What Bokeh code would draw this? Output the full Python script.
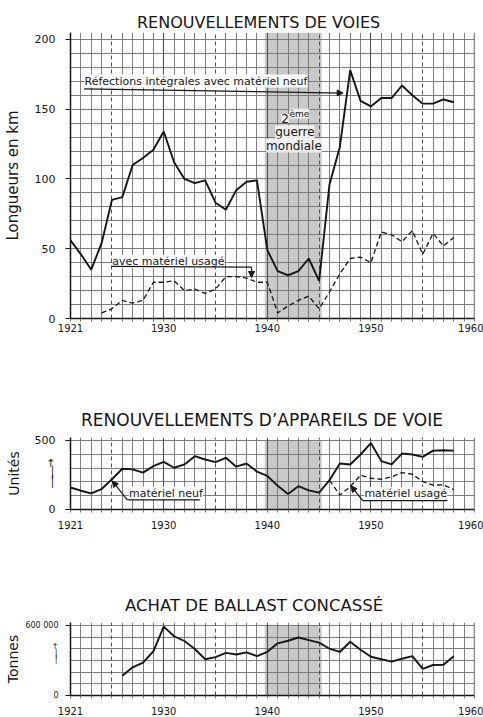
from bokeh.plotting import figure
from bokeh.models import Range1d, FixedTicker, Grid, BoxAnnotation, Span, Label, Arrow, NormalHead
from bokeh.layouts import column
from bokeh.embed import file_html
from bokeh.resources import INLINE

# ---------------- data ----------------
years_voies_neuf = list(range(1921, 1959))
voies_neuf = [56, 46, 35, 54, 85, 87, 110, 115, 121, 134, 112, 100, 97, 99, 83, 78, 92, 98, 99,
              49, 34, 31, 34, 43, 27, 96, 123, 178, 156, 152, 158, 158, 167, 160, 154, 154, 157, 155]
years_voies_usage = list(range(1924, 1959))
voies_usage = [4, 7, 13, 11, 13, 26, 26, 27, 20, 21, 18, 21, 30, 30, 29, 26, 26, 4, 9, 13, 16, 7,
               19, 32, 43, 44, 40, 62, 60, 55, 63, 46, 61, 52, 58]

years_app_neuf = list(range(1921, 1959))
app_neuf = [159, 136, 117, 148, 219, 295, 290, 267, 314, 345, 302, 326, 386, 362, 343, 374, 310, 333,
            274, 243, 171, 112, 169, 138, 122, 212, 333, 326, 398, 481, 350, 326, 405, 398, 381, 426, 429, 426]
years_app_usage = list(range(1946, 1959))
app_usage = [212, 105, 165, 248, 226, 219, 236, 267, 255, 202, 176, 179, 143]

years_ballast = list(range(1926, 1959))
ballast = [170000, 242000, 283000, 380000, 592000, 509000, 468000, 399000, 311000, 330000, 366000,
           352000, 371000, 338000, 375000, 448000, 470000, 498000, 476000, 454000, 402000, 374000,
           462000, 393000, 333000, 311000, 291000, 316000, 338000, 229000, 262000, 264000, 338000]

x_tick_years = [1921, 1930, 1940, 1950, 1960]
war_start, war_end = 1939.75, 1945.25

titles = ["RENOUVELLEMENTS DE VOIES", "RENOUVELLEMENTS  D\u2019APPAREILS DE VOIE", "ACHAT DE BALLAST CONCASSÉ"]

FONT = "DejaVu Sans"
INK = "#161616"
GRID = "#707070"
SHADE = "#c9c9c9"


def panel(height, b_top, b_bottom, y_end, y_ticks, y_marks, y_grid, shade_top, title, title_size,
          title_offset, title_standoff, ylabel, ylabel_size, ytick_size, ytick_standoff,
          ylabel_standoff, x_standoff, overrides=None):
    p = figure(width=483, height=height, x_range=Range1d(1921, 1960), y_range=Range1d(0, y_end),
               output_backend="svg", toolbar_location=None,
               min_border_left=68, min_border_right=9, min_border_top=b_top, min_border_bottom=b_bottom)
    p.outline_line_color = None
    p.background_fill_color = "white"
    p.border_fill_color = "white"

    p.title.text = title
    p.title.align = "left"
    p.title.offset = title_offset
    p.title.standoff = title_standoff
    p.title.text_font = FONT
    p.title.text_font_size = title_size
    p.title.text_font_style = "normal"
    p.title.text_color = INK

    p.add_layout(BoxAnnotation(left=war_start, right=war_end, bottom=0, top=shade_top,
                               fill_color=SHADE, fill_alpha=1.0, line_color=None, level="image"))

    p.xgrid.ticker = FixedTicker(ticks=[y for y in range(1922, 1960) if y % 5 != 0])
    p.xgrid.grid_line_color = GRID
    p.xgrid.grid_line_width = 0.9
    p.add_layout(Grid(dimension=0, ticker=FixedTicker(ticks=[1930, 1940, 1950]),
                      grid_line_color="#505050", grid_line_width=1.1))
    p.add_layout(Grid(dimension=0, ticker=FixedTicker(ticks=[1925, 1935, 1945, 1955]),
                      grid_line_color="#505050", grid_line_width=1.0, grid_line_dash="4 3"))
    p.ygrid.ticker = FixedTicker(ticks=y_grid)
    p.ygrid.grid_line_color = GRID
    p.ygrid.grid_line_width = 0.9

    xa = p.xaxis[0]
    xa.ticker = FixedTicker(ticks=x_tick_years, minor_ticks=list(range(1921, 1961)))
    xa.axis_line_color = INK
    xa.axis_line_width = 1.5
    xa.major_tick_out = 0
    xa.major_tick_in = 0
    xa.minor_tick_out = 3
    xa.minor_tick_in = 0
    xa.minor_tick_line_color = GRID
    xa.major_label_standoff = x_standoff
    xa.major_label_text_font = FONT
    xa.major_label_text_font_size = "10px"
    xa.major_label_text_color = INK

    ya = p.yaxis[0]
    # tick marks only at the real values (drawn as minor ticks); the extra major tick carries the arrow
    ya.ticker = FixedTicker(ticks=y_ticks, minor_ticks=y_marks)
    if overrides:
        ya.major_label_overrides = overrides
    ya.axis_line_color = INK
    ya.axis_line_width = 1.5
    ya.major_tick_out = 0
    ya.major_tick_in = 0
    ya.minor_tick_out = 5
    ya.minor_tick_in = 0
    ya.minor_tick_line_color = INK
    ya.major_label_standoff = ytick_standoff
    ya.major_label_text_font = FONT
    ya.major_label_text_font_size = ytick_size
    ya.major_label_text_line_height = 0.72
    ya.major_label_text_color = INK
    ya.axis_label = ylabel
    ya.axis_label_text_font = FONT
    ya.axis_label_text_font_style = "normal"
    ya.axis_label_text_font_size = ylabel_size
    ya.axis_label_text_color = INK
    ya.axis_label_standoff = ylabel_standoff

    p.add_layout(Span(location=1960, dimension="height", line_color=INK, line_width=1.3))
    return p


def txt(p, x, y, s, size="11px", align="left", bg="white", alpha=1.0):
    p.add_layout(Label(x=x, y=y, text=s, text_align=align, text_baseline="middle", text_font=FONT,
                       text_font_size=size, text_color=INK, background_fill_color=bg,
                       background_fill_alpha=alpha))


def arrow(p, x0, y0, x1, y1, head=True):
    p.add_layout(Arrow(x_start=x0, y_start=y0, x_end=x1, y_end=y1, line_color=INK, line_width=1.2,
                       end=NormalHead(size=6, fill_color=INK, line_color=INK) if head else None))


# ---------------- panel 1 ----------------
p1 = panel(400, 32, 82, 205, [0, 50, 100, 150, 200], [0, 50, 100, 150, 200], list(range(10, 201, 10)), 205,
           titles[0], "16px", 66.5, 2, "Longueurs en km", "15px", "11px", 10, 10, 2)
p1.line(years_voies_neuf, voies_neuf, line_color=INK, line_width=1.9)
p1.line(years_voies_usage, voies_usage, line_color=INK, line_width=1.3, line_dash="5 3")
txt(p1, 1922.35, 170.2, "Réfections intégrales avec matériel neuf")
arrow(p1, 1922.32, 164.6, 1947.32, 161.6)
txt(p1, 1925.03, 41.1, "avec matériel usagé")
arrow(p1, 1924.97, 37.3, 1938.48, 36.8, head=False)
arrow(p1, 1938.48, 36.8, 1938.48, 29.4)
txt(p1, 1942.09, 143.4, "2", size="12px", align="right", bg="#f4f4f4", alpha=0.9)
txt(p1, 1942.13, 146.9, "ème", size="9px", bg="#f4f4f4", alpha=0.9)
txt(p1, 1942.66, 133.5, "guerre", size="12px", align="center", bg="#f4f4f4", alpha=0.9)
txt(p1, 1942.57, 124.0, "mondiale", size="12px", align="center", bg="#f4f4f4", alpha=0.9)

# ---------------- panel 2 ----------------
p2 = panel(186, 36, 77, 521, [0, 268, 500], [0, 500], list(range(100, 501, 100)), 500,
           titles[1], "17px", 10.5, 15, "Unités", "14px", "11px", 10, 10, 8,
           overrides={268: "\u2191\n\u2502\n\u2502"})
p2.line(years_app_neuf, app_neuf, line_color=INK, line_width=1.9)
p2.line(years_app_usage, app_usage, line_color=INK, line_width=1.3, line_dash="5 3")
txt(p2, 1926.64, 119, "matériel neuf")
arrow(p2, 1926.48, 69, 1933.49, 69, head=False)
arrow(p2, 1926.48, 69, 1925.03, 207)
txt(p2, 1949.37, 116, "matériel usagé")
arrow(p2, 1949.21, 64, 1957.38, 64, head=False)
arrow(p2, 1949.21, 64, 1948.08, 171)

# ---------------- panel 3 ----------------
p3 = panel(131, 34, 21, 627000, [0, 363000, 600000], [0, 600000], list(range(100000, 600001, 100000)),
           600000, titles[2], "16.5px", 54.5, 15, "Tonnes", "14px", "8px", 7, 1, 8,
           overrides={0: "0", 363000: "\u2191\n\u2502\n\u2502", 600000: "600 000"})
p3.line(years_ballast, ballast, line_color=INK, line_width=1.9)

layout = column(p1, p2, p3, spacing=0)
open("out.html", "w").write(file_html(layout, INLINE))
